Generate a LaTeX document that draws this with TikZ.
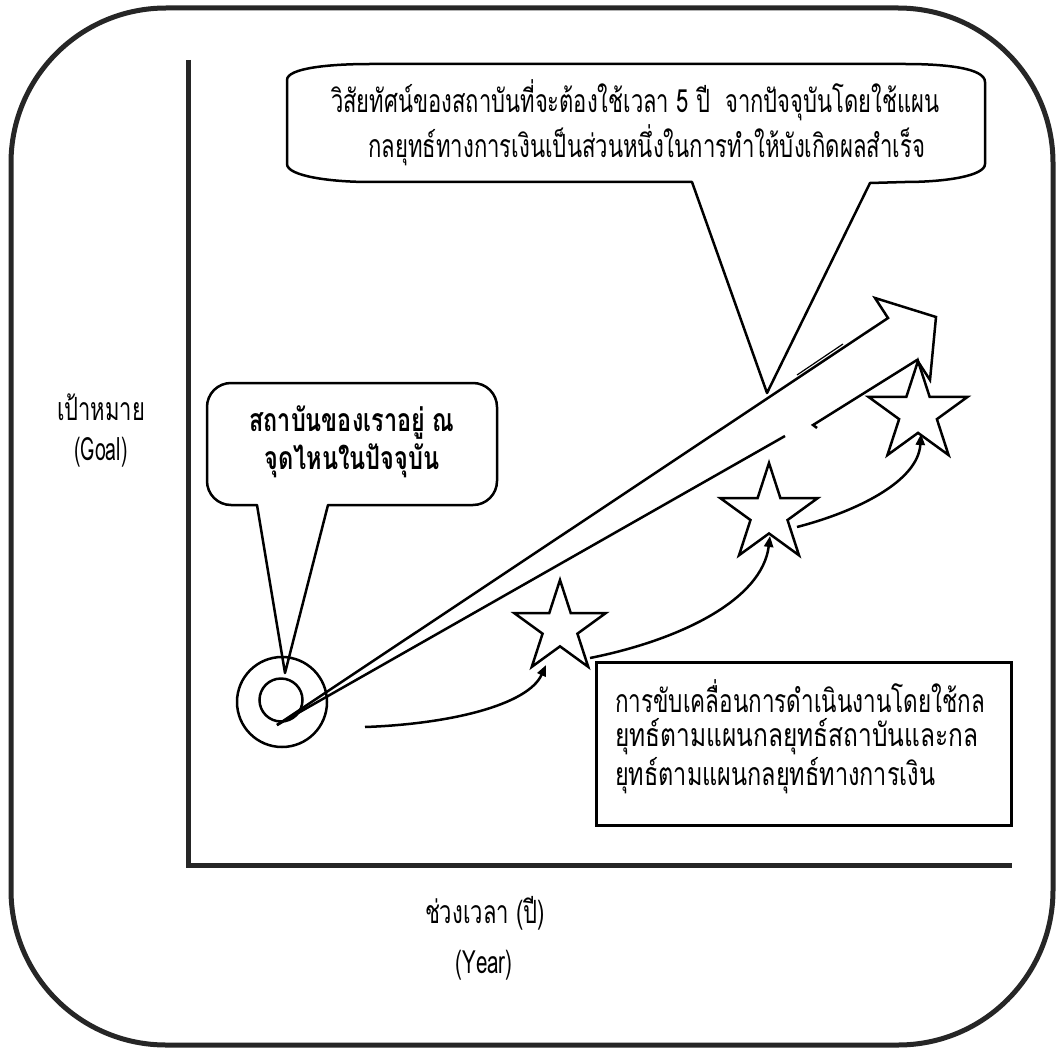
\documentclass[tikz,border=0pt]{standalone}
\usepackage{fontspec}
\usepackage{graphicx}
\setmainfont[Script=Thai]{Loma}
\usetikzlibrary{shapes.geometric,arrows.meta}
\newcommand{\fitw}[2]{\resizebox{#1}{\height}{#2}}
\tikzset{
  frame/.style={line width=5pt, draw=black!85},
  axisline/.style={line width=5pt, draw=black!85},
  edge/.style={line width=2.5pt, line join=miter},
  callout/.style={line width=2.5pt, line join=round, fill=white},
  starnode/.style={star, star points=5, star point ratio=2.618, draw, line width=2.5pt, inner sep=0pt, minimum size=104pt},
  flow/.style={line width=2.5pt, -{Triangle[length=11pt,width=9pt]}},
  lbl/.style={inner sep=0pt, font=\fontsize{32}{34}\selectfont},
  boldlbl/.style={inner sep=0pt, font=\fontsize{32}{34}\selectfont\bfseries},
}
\begin{document}
\begin{tikzpicture}[x=1pt,y=-1pt]
\useasboundingbox (0,0) rectangle (1057,1051);
% outer frame
\draw[frame, rounded corners=155pt] (11,8) rectangle (1053,1045);
% axes
\coordinate (ytop) at (188,60);
\coordinate (orig) at (188,865);
\coordinate (xend) at (1012,865);
\draw[axisline] (ytop) -- (orig) -- (xend);
% axis labels
\node[lbl] (goalth) at (101,407) {\fitw{88pt}{เป้าหมาย}};
\node[lbl] (goalen) at (101,452) {\fitw{53pt}{(Goal)}};
\node[lbl] (yearth) at (485,913) {\fitw{120pt}{ช่วงเวลา (ปี)}};
\node[lbl] (yearen) at (484,965) {\fitw{57pt}{(Year)}};
% top callout
\coordinate (ttip) at (767,393);
\draw[callout] (287,80) .. controls (287,68) and (330,64) .. (370,64)
  -- (905,64) .. controls (945,64) and (985,68) .. (985,82)
  -- (985,164) .. controls (985,176) and (945,182) .. (905,182)
  -- (870,183) -- (ttip) -- (692,182) -- (370,182)
  .. controls (330,182) and (287,176) .. (287,164) -- cycle;
\node[lbl, anchor=west] (top1) at (331,100) {\fitw{608pt}{วิสัยทัศน์ของสถาบันที่จะต้องใช้เวลา 5 ปี\ \ จากปัจจุบันโดยใช้แผน}};
\node[lbl, anchor=west] (top2) at (368,145) {\fitw{557pt}{กลยุทธ์ทางการเงินเป็นส่วนหนึ่งในการทำให้บังเกิดผลสำเร็จ}};
% left callout
\coordinate (ltip) at (285,673);
\draw[callout, rounded corners=24pt] (207,383) -- (497,383) -- (497,505)
  [sharp corners] -- (328,505) -- (ltip) -- (257,505) [rounded corners=24pt] -- (207,505) -- cycle;
\node[boldlbl] (left1) at (352,423) {\fitw{205pt}{สถาบันของเราอยู่ ณ}};
\node[boldlbl] (left2) at (352,461) {\fitw{175pt}{จุดไหนในปัจจุบัน}};
% target circles
\node[circle, draw, line width=2.5pt, minimum size=90pt, inner sep=0pt] (outc) at (282,702) {};
\node[circle, draw, line width=2.5pt, minimum size=43pt, inner sep=0pt] (inc) at (281,700) {};
% big arrow
\coordinate (a0) at (277,725);
\coordinate (a1) at (888,318);
\coordinate (a2) at (875,298);
\coordinate (a3) at (936,317);
\coordinate (a4) at (930,380);
\coordinate (a5) at (917,360);
\coordinate (a6) at (813,425);
\coordinate (a6b) at (817,428);
\coordinate (a7) at (785,436);
\draw[edge] (a0) -- (a1) -- (a2) -- (a3) -- (a4) -- (a5) -- (a6) -- (a6b);
\draw[edge] (a7) -- (a0);
\coordinate (d1) at (797,375);
\coordinate (d2) at (843,344);
\draw[line width=1.2pt] (d1) -- (d2);
% stars
\node[starnode, minimum size=96pt] (s1) at (560,628) {};
\node[starnode, minimum size=102pt] (s2) at (769,514) {};
\node[starnode, minimum size=104pt] (s3) at (918,413) {};
% flow arrows
\coordinate (f0) at (365,727);
\coordinate (f1) at (546,665);
\coordinate (f2) at (590,658);
\coordinate (f3) at (770,536);
\coordinate (f4) at (797,527);
\coordinate (f5) at (921,434);
\draw[flow] (f0) .. controls (450,724) and (528,705) .. (f1);
\draw[flow] (f2) .. controls (680,640) and (762,600) .. (f3);
\draw[flow] (f4) .. controls (855,512) and (918,482) .. (f5);
% text box
\node[draw, line width=2.5pt, minimum width=415pt, minimum height=163pt, anchor=north west, inner sep=0pt] (box) at (595,661) {};
\node[lbl, anchor=west] (b1) at (615,696) {\fitw{370pt}{การขับเคลื่อนการดำเนินงานโดยใช้กล}};
\node[lbl, anchor=west] (b2) at (615,737) {\fitw{363pt}{ยุทธ์ตามแผนกลยุทธ์สถาบันและกล}};
\node[lbl, anchor=west] (b3) at (615,776) {\fitw{320pt}{ยุทธ์ตามแผนกลยุทธ์ทางการเงิน}};
\end{tikzpicture}
\end{document}
